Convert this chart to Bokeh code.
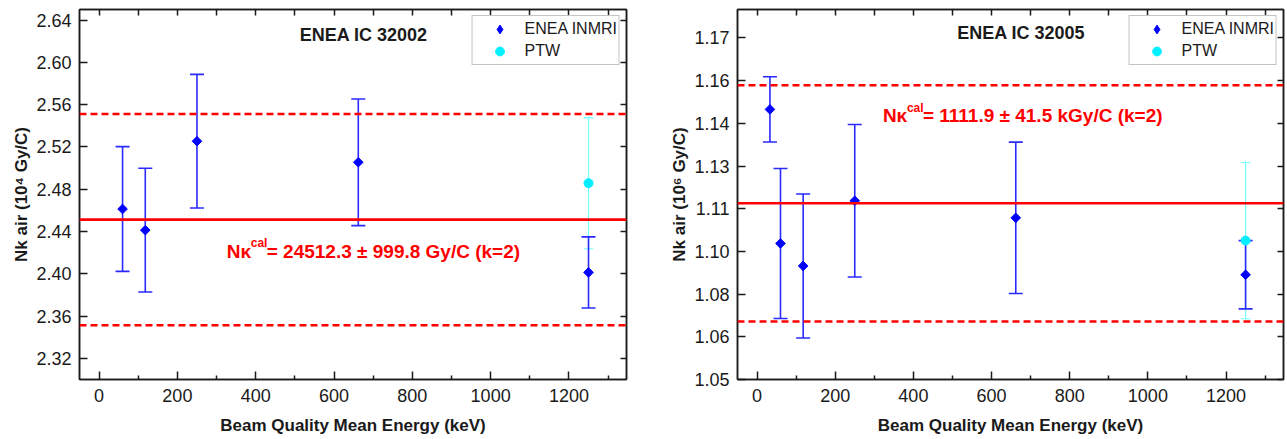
import math
from bokeh.plotting import figure
from bokeh.layouts import row
from bokeh.models import (ColumnDataSource, Whisker, TeeHead, Span, Label, LinearAxis,
                          FixedTicker, Range1d, Legend, LegendItem)
from bokeh.embed import file_html
from bokeh.resources import INLINE

FONT = "Liberation Sans"

# ---------------- data ----------------
# ENEA IC 32002, Nk air in 10^4 Gy/C
energy_32002 = [60, 118, 250, 662, 1250]
nk_32002 = [2.4613, 2.4413, 2.5254, 2.5055, 2.4013]
err_32002 = [0.0590, 0.0585, 0.0632, 0.0599, 0.0336]
ptw_energy_32002 = [1250]
ptw_nk_32002 = [2.4857]
ptw_err_32002 = [0.0620]
cal_32002 = 2.45123          # 24512.3 Gy/C
cal_unc_32002 = 0.09998      # 999.8 Gy/C (k=2)

# ENEA IC 32005, Nk air in 10^6 Gy/C
energy_32005 = [33, 60, 118, 250, 662, 1250]
nk_32005 = [1.1449, 1.0978, 1.0899, 1.1128, 1.1068, 1.0868]
err_32005 = [0.01145, 0.02635, 0.0253, 0.0268, 0.0266, 0.0120]
ptw_energy_32005 = [1250]
ptw_nk_32005 = [1.0988]
ptw_err_32005 = [0.02745]
cal_32005 = 1.1119           # 1111.9 kGy/C
cal_unc_32005 = 0.0415       # 41.5 kGy/C (k=2)

# ticks
x_major = [0, 200, 400, 600, 800, 1000, 1200]
x_minor = [100, 300, 500, 700, 900, 1100, 1300]
x_top = [0, 100, 200, 300, 400, 500, 600, 700, 800, 900, 1000, 1100, 1200, 1300]
y_ticks_32002 = [2.32, 2.36, 2.40, 2.44, 2.48, 2.52, 2.56, 2.60, 2.64]
y_labels_32002 = ["2.32", "2.36", "2.40", "2.44", "2.48", "2.52", "2.56", "2.60", "2.64"]
y_ticks_32005 = [1.05, 1.065, 1.08, 1.095, 1.11, 1.125, 1.14, 1.155, 1.17]
y_labels_32005 = ["1.05", "1.06", "1.08", "1.10", "1.11", "1.13", "1.14", "1.16", "1.17"]

titles = ["ENEA IC 32002", "ENEA IC 32005"]
cal_texts = ["= 24512.3 \u00b1 999.8 Gy/C (k=2)", "= 1111.9 \u00b1 41.5 kGy/C (k=2)"]
y_axis_labels = ["Nk air (10\u2074 Gy/C)", "Nk air (10\u2076 Gy/C)"]
x_axis_label = "Beam Quality Mean Energy (keV)"
series_names = ["ENEA INMRI", "PTW"]

BLUE = "#0000FF"
BAR_BLUE = "#2A2AFF"
CYAN = "#00F0FF"
BAR_CYAN = "#70FFFF"
RED = "#FF0000"
AX = "#1a1a1a"


def mirror_axis(ticks):
    return LinearAxis(ticker=FixedTicker(ticks=ticks, minor_ticks=[]),
                      major_label_text_font_size="1px", major_label_text_color=None,
                      major_label_standoff=0,
                      major_tick_in=6, major_tick_out=0, minor_tick_in=0, minor_tick_out=0,
                      axis_line_color=AX, axis_line_width=1.5,
                      major_tick_line_color=AX, major_tick_line_width=1.5)


def make_panel(energy, nk, err, p_energy, p_nk, p_err, cal, unc, yticks, ylabels,
               yrange, title, cal_text, ylab, width, border_left, border_right,
               title_pos, annot_pos):
    p = figure(width=width, height=439, output_backend="svg", toolbar_location=None,
               x_range=Range1d(-50, 1347), y_range=Range1d(*yrange),
               min_border_left=border_left, min_border_right=border_right,
               min_border_top=9, min_border_bottom=60)
    p.grid.visible = False
    p.outline_line_color = AX
    p.outline_line_width = 1.5
    p.background_fill_color = "white"
    p.border_fill_color = "white"

    # main axes
    xa = p.xaxis[0]
    xa.ticker = FixedTicker(ticks=x_major, minor_ticks=x_minor)
    ya = p.yaxis[0]
    ya.ticker = FixedTicker(ticks=yticks, minor_ticks=[])
    ya.major_label_overrides = {t: l for t, l in zip(yticks, ylabels)}
    for ax in (xa, ya):
        ax.major_tick_in = 8
        ax.major_tick_out = 0
        ax.minor_tick_in = 4
        ax.minor_tick_out = 0
        ax.axis_line_color = AX
        ax.axis_line_width = 1.5
        ax.major_tick_line_color = AX
        ax.major_tick_line_width = 1.5
        ax.minor_tick_line_color = AX
        ax.minor_tick_line_width = 1.5
        ax.major_label_text_font = FONT
        ax.major_label_text_font_size = "18px"
        ax.major_label_text_color = AX
        ax.axis_label_text_font = FONT
        ax.axis_label_text_font_size = "17px"
        ax.axis_label_text_font_style = "bold"
        ax.axis_label_text_color = AX
    xa.axis_label = x_axis_label
    xa.major_label_standoff = 9
    xa.axis_label_standoff = 11
    ya.axis_label = ylab
    ya.major_label_standoff = 8
    ya.axis_label_standoff = 2

    # mirrored axes without labels
    p.add_layout(mirror_axis(x_top), "above")
    p.add_layout(mirror_axis(yticks), "right")

    # data
    src = ColumnDataSource(dict(x=energy, y=nk,
                                lo=[v - e for v, e in zip(nk, err)],
                                hi=[v + e for v, e in zip(nk, err)]))
    psrc = ColumnDataSource(dict(x=p_energy, y=p_nk,
                                 lo=[v - e for v, e in zip(p_nk, p_err)],
                                 hi=[v + e for v, e in zip(p_nk, p_err)]))

    wc = Whisker(source=psrc, base="x", lower="lo", upper="hi", dimension="height",
                 line_color=BAR_CYAN, line_width=1.2, level="underlay",
                 lower_head=TeeHead(size=9, line_color=BAR_CYAN, line_width=1.2),
                 upper_head=TeeHead(size=9, line_color=BAR_CYAN, line_width=1.2))
    p.add_layout(wc)
    wb = Whisker(source=src, base="x", lower="lo", upper="hi", dimension="height",
                 line_color=BAR_BLUE, line_width=1.6, level="underlay",
                 lower_head=TeeHead(size=14, line_color=BAR_BLUE, line_width=1.6),
                 upper_head=TeeHead(size=14, line_color=BAR_BLUE, line_width=1.6))
    p.add_layout(wb)

    p.scatter("x", "y", source=src, marker="square", angle=math.pi / 4, size=6.8,
              fill_color=BLUE, line_color=BLUE)
    r_ptw = p.scatter("x", "y", source=psrc, marker="circle", size=9,
                      fill_color=CYAN, line_color=CYAN)
    # hidden diamond renderer used only for the legend symbol
    r_leg = p.scatter("x", "y", source=src, marker="diamond", size=12,
                      fill_color=BLUE, line_color=BLUE, visible=False)

    # calibration lines
    p.add_layout(Span(location=cal, dimension="width", line_color=RED, line_width=2.6,
                      level="annotation"))
    for loc in (cal + unc, cal - unc):
        p.add_layout(Span(location=loc, dimension="width", line_color=RED, line_width=2.4,
                          line_dash="7 4", level="annotation"))

    # title and calibration annotation
    p.add_layout(Label(x=title_pos[0], y=title_pos[1], text=title, text_font=FONT,
                       text_font_size="18px", text_font_style="bold", text_color=AX,
                       text_align="center", text_baseline="middle"))
    ax_, ay_ = annot_pos
    p.add_layout(Label(x=ax_, y=ay_, text="N\u03ba", text_font=FONT, text_font_size="19px",
                       text_font_style="bold", text_color=RED, text_baseline="alphabetic"))
    p.add_layout(Label(x=ax_, y=ay_, x_offset=24, y_offset=8, text="cal", text_font=FONT,
                       text_font_size="12px", text_font_style="bold", text_color=RED,
                       text_baseline="alphabetic"))
    p.add_layout(Label(x=ax_, y=ay_, x_offset=40, text=cal_text, text_font=FONT,
                       text_font_size="19px", text_font_style="bold", text_color=RED,
                       text_baseline="alphabetic"))

    lg = Legend(items=[LegendItem(label=series_names[0], renderers=[r_leg]),
                       LegendItem(label=series_names[1], renderers=[r_ptw])],
                location="top_right", margin=6, padding=2, spacing=0,
                glyph_width=50, glyph_height=22, label_height=20, label_standoff=0,
                label_text_font=FONT, label_text_font_size="16px", label_text_color=AX,
                border_line_color="#8a8a8a", border_line_width=1,
                background_fill_alpha=1.0)
    p.add_layout(lg)
    return p


p1 = make_panel(energy_32002, nk_32002, err_32002, ptw_energy_32002, ptw_nk_32002,
                ptw_err_32002, cal_32002, cal_unc_32002, y_ticks_32002, y_labels_32002,
                (2.30, 2.65), titles[0], cal_texts[0], y_axis_labels[0],
                640, 79, 14, (676, 2.6256), (326, 2.4214))
p2 = make_panel(energy_32005, nk_32005, err_32005, ptw_energy_32005, ptw_nk_32005,
                ptw_err_32005, cal_32005, cal_unc_32005, y_ticks_32005, y_labels_32005,
                (1.05, 1.18), titles[1], cal_texts[1], y_axis_labels[1],
                647, 97, 4, (676, 1.1717), (322, 1.1426))

layout = row(p1, p2)
open("out.html", "w").write(file_html(layout, INLINE))
